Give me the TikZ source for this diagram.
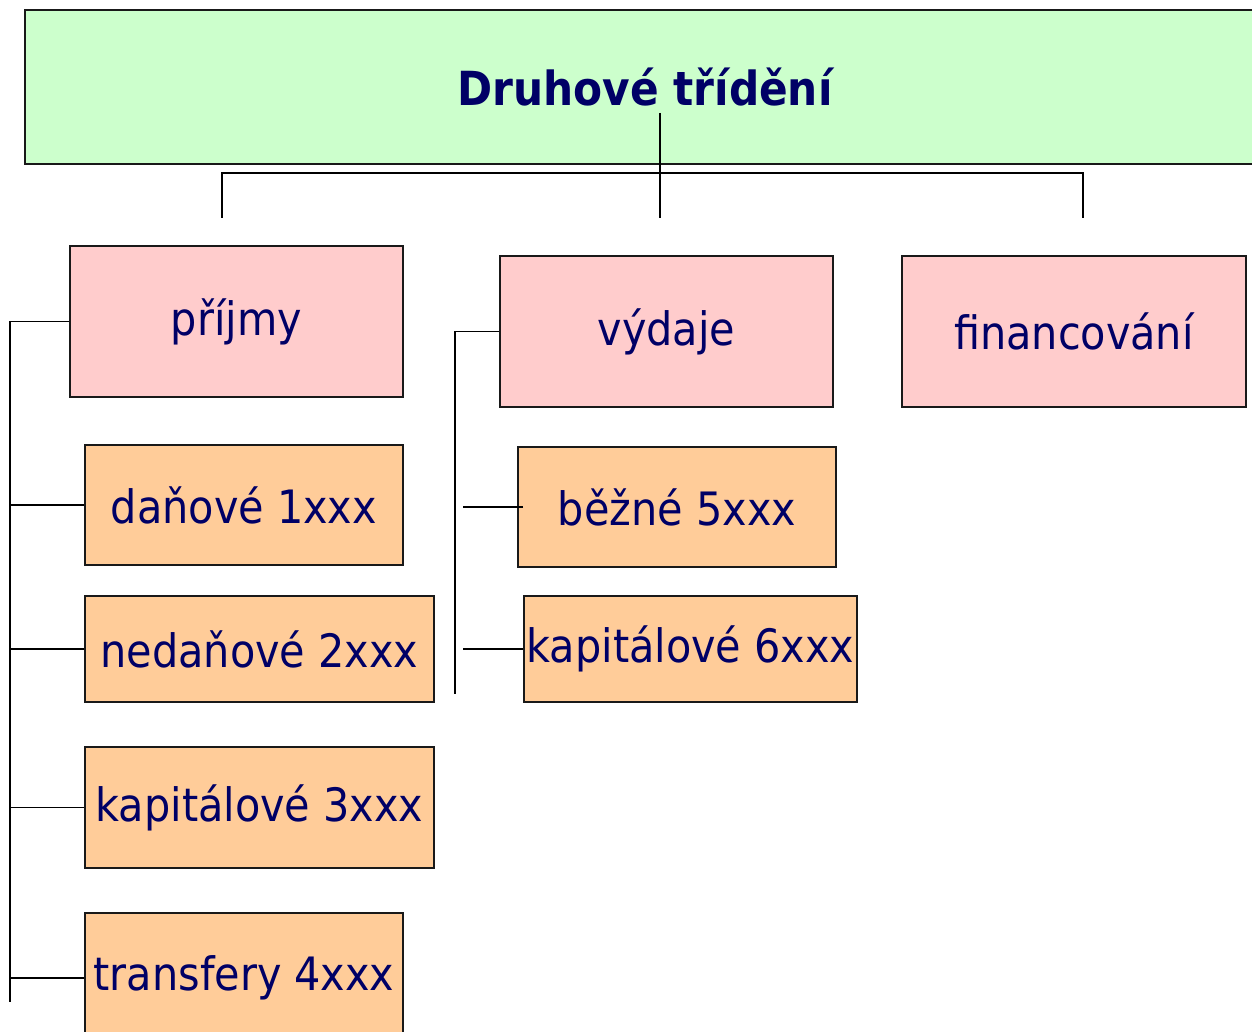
\documentclass[tikz,border=0pt]{standalone}
\usepackage{fontspec}
\setmainfont{DejaVu Sans Condensed}
\usepackage{tikz}
\usetikzlibrary{positioning}
\definecolor{titlegreen}{RGB}{204,255,204}
\definecolor{headpink}{RGB}{255,204,204}
\definecolor{itemorange}{RGB}{255,204,153}
\definecolor{navytext}{RGB}{0,0,102}
\tikzset{
  box/.style={draw=black!90, line width=1.8pt, inner sep=0pt, text=navytext,
              font=\fontsize{46}{52}\selectfont},
  headbox/.style={box, fill=headpink, minimum height=151pt},
  itembox/.style={box, fill=itemorange},
  link/.style={line width=1.8pt}
}
\begin{document}
\begin{tikzpicture}[x=1pt,y=-1pt]
                \useasboundingbox (0,0) rectangle (1252,1032);
                % top box
                \node[box, fill=titlegreen, minimum width=1240pt, minimum height=154pt,
                      font=\fontsize{47}{52}\selectfont\bfseries] (druh) at (645,87) {Druhové třídění};
                % heads
                \node[headbox, minimum width=333pt] (prijmy) at (236.5,321.5) {příjmy};
                \node[headbox, minimum width=333pt] (vydaje) at (666.5,331.5) {výdaje};
                \node[headbox, minimum width=344pt] (financ) at (1074,331.5) {financování};
                % items
                \node[itembox, minimum width=318pt, minimum height=120pt] (dan) at (244,505) {daňové 1xxx};
                \node[itembox, minimum width=349pt, minimum height=106pt] (nedan) at (259.5,649) {nedaňové 2xxx};
                \node[itembox, minimum width=349pt, minimum height=121pt] (kap3) at (259.5,807.5) {kapitálové 3xxx};
                \node[itembox, minimum width=318pt, minimum height=130pt] (trans) at (244,978) {transfery 4xxx};
                \node[itembox, minimum width=318pt, minimum height=120pt] (bezne) at (677,507) {běžné 5xxx};
                \node[itembox, minimum width=333pt, minimum height=106pt] (kap6) at (690.5,649) {kapitálové 6xxx};
                % top connector
                \coordinate (tm) at (660,113);
                \coordinate (bar) at (660,173);
                \coordinate (hl) at (222,218);
                \coordinate (hm) at (660,218);
                \coordinate (hr) at (1083,218);
                \draw[link] (hl) |- (bar) -| (hr);
                \draw[link] (tm) -- (hm);
                % left bracket
                \coordinate (lb) at (10,1002);
                \draw[link] (prijmy.west) -| (lb);
                \foreach \n in {dan,nedan,kap3,trans}
                  \draw[link] (\n.west) -- (\n.west -| lb);
                % middle bracket
                \coordinate (mb) at (455,694);
                \draw[link] (vydaje.west) -| (mb);
                \draw[link] (bezne.west) ++(6,0) -- ++(-60,0);
                \draw[link] (kap6.west) -- ++(-60,0);
\end{tikzpicture}
\end{document}
